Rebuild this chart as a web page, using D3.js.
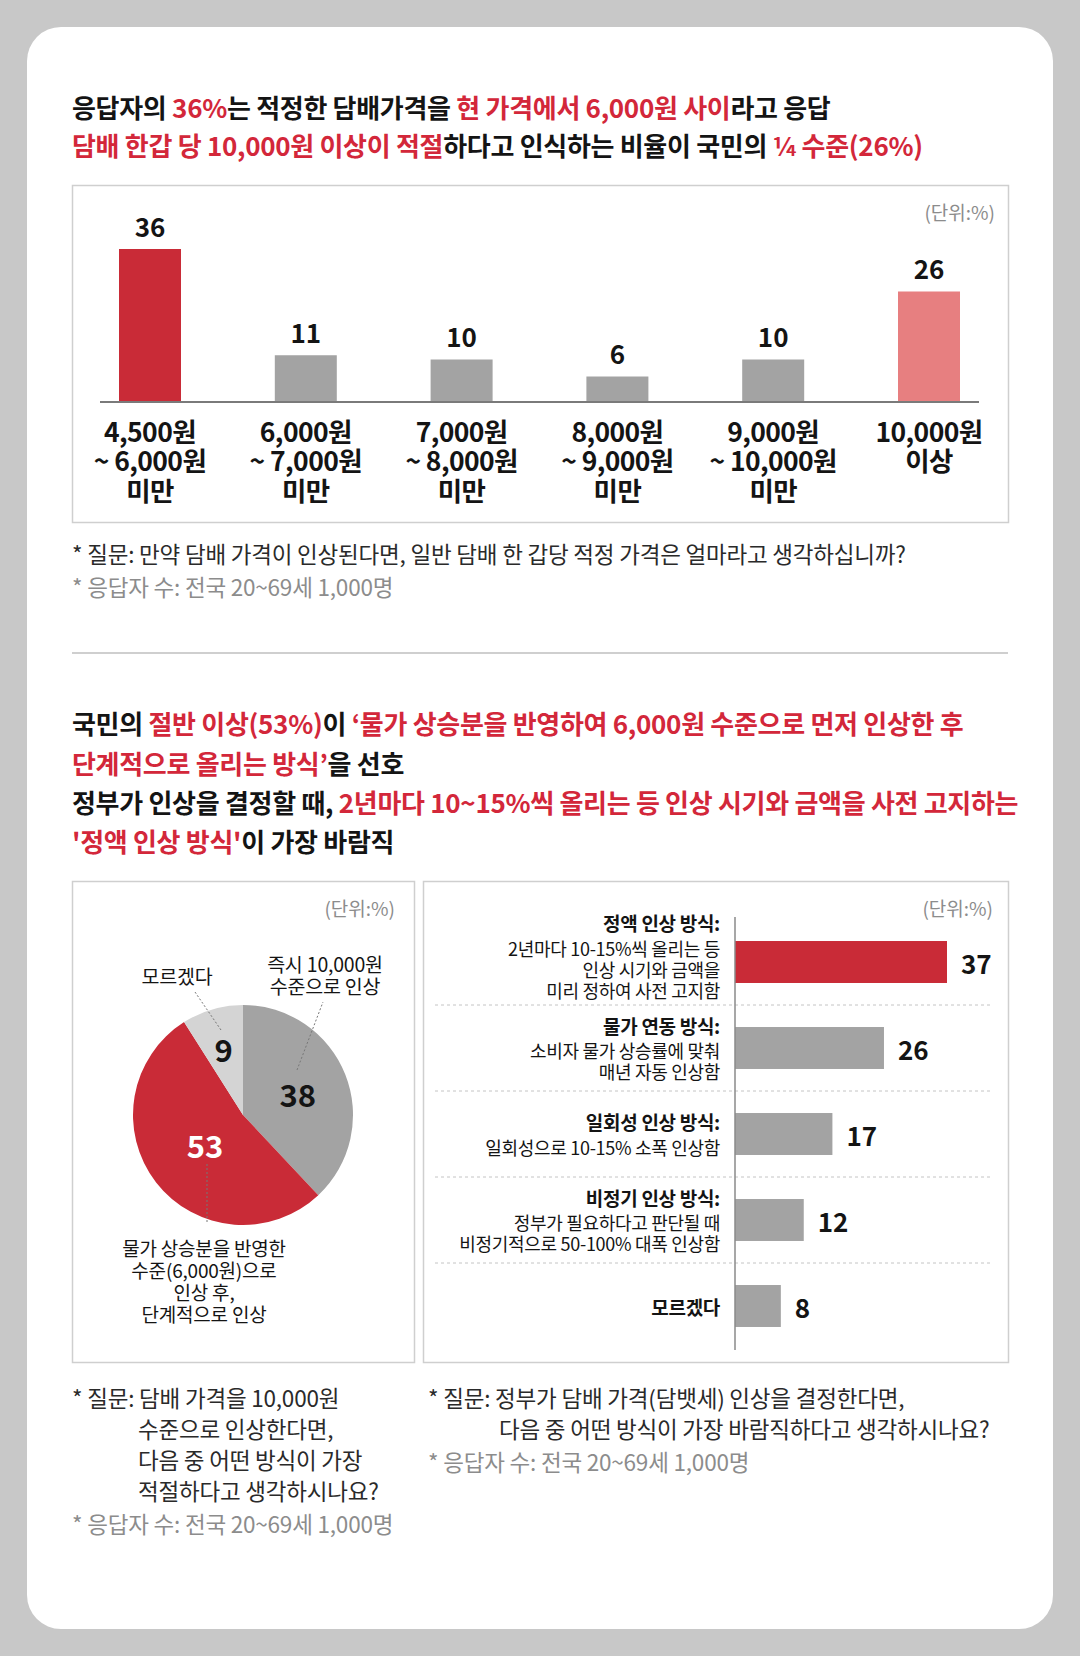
<!DOCTYPE html>
<html><head><meta charset="utf-8">
<script src="https://cdn.jsdelivr.net/npm/d3@7"></script>
<style>
html,body{margin:0;padding:0;background:#c8c8c8;}
svg{display:block;font-family:"Noto Sans CJK KR","Noto Sans",sans-serif;}
</style></head>
<body>
<svg id="c" width="1080" height="1656"></svg>
<script>
// ---------- DATA ----------
const priceCategories = [
  ["4,500원","~ 6,000원","미만"],
  ["6,000원","~ 7,000원","미만"],
  ["7,000원","~ 8,000원","미만"],
  ["8,000원","~ 9,000원","미만"],
  ["9,000원","~ 10,000원","미만"],
  ["10,000원","이상"]
];
const priceValues = [36, 11, 10, 6, 10, 26];

const pieCategories = ["즉시 10,000원 수준으로 인상", "물가 상승분을 반영한 수준(6,000원)으로 인상 후, 단계적으로 인상", "모르겠다"];
const pieValues = [38, 53, 9];

const methodTitles = ["정액 인상 방식:", "물가 연동 방식:", "일회성 인상 방식:", "비정기 인상 방식:", "모르겠다"];
const methodDescs = [
  ["2년마다 10-15%씩 올리는 등","인상 시기와 금액을","미리 정하여 사전 고지함"],
  ["소비자 물가 상승률에 맞춰","매년 자동 인상함"],
  ["일회성으로 10-15% 소폭 인상함"],
  ["정부가 필요하다고 판단될 때","비정기적으로 50-100% 대폭 인상함"],
  []
];
const methodValues = [37, 26, 17, 12, 8];

// ---------- STYLE / LAYOUT ----------
const RED = "#c92b37", RED_T = "#d3273a", PINK = "#e77f80", GREY = "#a3a3a3", LGREY = "#d4d4d4";
const BLACK = "#141414", NOTE = "#8c8c8c", NOTE_D = "#2a2a2a";
const pieLabelRadius = [59, 48, 69];

const svg = d3.select("#c");
svg.append("rect").attr("width",1080).attr("height",1656).attr("fill","#c8c8c8");
svg.append("rect").attr("x",27).attr("y",27).attr("width",1026).attr("height",1602).attr("rx",34).attr("fill","#fff");

function rich(g, x, y, parts, size, weight){
  const t = g.append("text").attr("x",x).attr("y",y).attr("font-size",size).attr("font-weight",weight||700)
    .attr("dominant-baseline","central").attr("letter-spacing","-0.3");
  parts.forEach(p=>t.append("tspan").attr("fill",p[1]?RED_T:BLACK).text(p[0]));
  return t;
}

// ---------- TITLE 1 ----------
rich(svg,72,106,[["응답자의 ",0],["36%",1],["는 적정한 담배가격을 ",0],["현 가격에서 6,000원 사이",1],["라고 응답",0]],26);
rich(svg,72,144,[["담배 한갑 당 10,000원 이상이 적절",1],["하다고 인식하는 비율이 국민의 ",0],["¼ 수준(26%)",1]],26);

// ---------- CHART 1 ----------
svg.append("rect").attr("x",72.5).attr("y",185.5).attr("width",936).attr("height",337).attr("fill","none").attr("stroke","#cfcfcf").attr("stroke-width",1.5);
svg.append("text").attr("x",995).attr("y",211).attr("text-anchor","end").attr("dominant-baseline","central")
  .attr("font-size",19).attr("fill",NOTE).text("(단위:%)");

const x1 = d3.scalePoint().domain(d3.range(priceValues.length)).range([150,929]);
const y1 = d3.scaleLinear().domain([0,40]).range([402,402-170]);
const barW = 62;
const g1 = svg.append("g");
g1.selectAll("rect.b").data(priceValues).join("rect")
  .attr("x",(d,i)=>x1(i)-barW/2).attr("width",barW)
  .attr("y",d=>y1(d)).attr("height",d=>y1(0)-y1(d))
  .attr("fill",(d,i)=>i===0?RED:(i===priceValues.length-1?PINK:GREY));
const ax1 = g1.append("g").attr("transform",`translate(0,${y1(0)})`)
  .call(d3.axisBottom(x1).tickSize(0).tickFormat(""));
ax1.select(".domain").attr("d","M100,0H979").attr("stroke","#7a7a7a").attr("stroke-width",2);
g1.selectAll("text.v").data(priceValues).join("text")
  .attr("x",(d,i)=>x1(i)).attr("y",d=>y1(d)-24).attr("text-anchor","middle").attr("dominant-baseline","central")
  .attr("font-size",26).attr("font-weight",700).attr("fill",BLACK).text(d=>d);
priceCategories.forEach((lines,i)=>{
  const t = g1.append("text").attr("text-anchor","middle").attr("font-size",26.5).attr("font-weight",700)
    .attr("fill",BLACK).attr("letter-spacing","-0.6");
  lines.forEach((l,j)=>t.append("tspan").attr("x",x1(i)).attr("y",430+29.5*j).attr("dominant-baseline","central").text(l));
});

// notes
function note(x,y,txt,fill){
  svg.append("text").attr("x",x).attr("y",y).attr("dominant-baseline","central").attr("font-size",22.5)
    .attr("fill",fill).attr("letter-spacing","-0.2").text(txt);
}
note(72,553,"* 질문: 만약 담배 가격이 인상된다면, 일반 담배 한 갑당 적정 가격은 얼마라고 생각하십니까?",NOTE_D);
note(72,586,"* 응답자 수: 전국 20~69세 1,000명",NOTE);

svg.append("line").attr("x1",72).attr("x2",1008).attr("y1",653).attr("y2",653).attr("stroke","#cfcfcf").attr("stroke-width",2);

// ---------- TITLE 2 ----------
rich(svg,72,722,[["국민의 ",0],["절반 이상(53%)",1],["이 ",0],["‘물가 상승분을 반영하여 6,000원 수준으로 먼저 인상한 후",1]],26);
rich(svg,72,762,[["단계적으로 올리는 방식’",1],["을 선호",0]],26);
rich(svg,72,801,[["정부가 인상을 결정할 때, ",0],["2년마다 10~15%씩 올리는 등 인상 시기와 금액을 사전 고지하는",1]],26);
rich(svg,72,840,[["'정액 인상 방식'",1],["이 가장 바람직",0]],26);

// ---------- PIE ----------
svg.append("rect").attr("x",72.5).attr("y",881.5).attr("width",342).attr("height",481).attr("fill","none").attr("stroke","#cfcfcf").attr("stroke-width",1.5);
svg.append("text").attr("x",395).attr("y",907).attr("text-anchor","end").attr("dominant-baseline","central")
  .attr("font-size",19).attr("fill",NOTE).text("(단위:%)");
const cx = 243, cy = 1115, R = 110;
const pie = d3.pie().sort(null).value(d=>d);
const arcs = pie(pieValues);
const arc = d3.arc().innerRadius(0).outerRadius(R);
const gp = svg.append("g").attr("transform",`translate(${cx},${cy})`);
const pieColors = [GREY, RED, LGREY];
gp.selectAll("path").data(arcs).join("path").attr("d",arc).attr("fill",(d,i)=>pieColors[i]);
gp.selectAll("text").data(arcs).join("text")
  .attr("transform",(d,i)=>`translate(${d3.arc().innerRadius(pieLabelRadius[i]).outerRadius(pieLabelRadius[i]).centroid(d)})`)
  .attr("text-anchor","middle").attr("dominant-baseline","central")
  .attr("font-size",31).attr("font-weight",700).attr("fill",(d,i)=>i===1?"#fff":BLACK).text(d=>d.data);
// leader lines (dashed)
const leaders = [[297,1070,323,1002],[207,1164,207,1222],[221,1030,195,992]];
leaders.forEach(l=>svg.append("line").attr("x1",l[0]).attr("y1",l[1]).attr("x2",l[2]).attr("y2",l[3])
  .attr("stroke","#777").attr("stroke-width",1).attr("stroke-dasharray","2,2"));
function multi(x,y,lines,size,anchor,lh,weight,fill){
  const t = svg.append("text").attr("text-anchor",anchor).attr("font-size",size).attr("font-weight",weight||400)
    .attr("fill",fill||BLACK).attr("letter-spacing","-0.2");
  lines.forEach((l,j)=>t.append("tspan").attr("x",x).attr("y",y+lh*j).attr("dominant-baseline","central").text(l));
}
multi(325,963,["즉시 10,000원","수준으로 인상"],19.5,"middle",22);
multi(177,975,["모르겠다"],19.5,"middle",22);
multi(204,1247,["물가 상승분을 반영한","수준(6,000원)으로","인상 후,","단계적으로 인상"],19,"middle",22);

// ---------- HORIZONTAL BARS ----------
svg.append("rect").attr("x",423.5).attr("y",881.5).attr("width",585).attr("height",481).attr("fill","none").attr("stroke","#cfcfcf").attr("stroke-width",1.5);
svg.append("text").attr("x",993).attr("y",907).attr("text-anchor","end").attr("dominant-baseline","central")
  .attr("font-size",19).attr("fill",NOTE).text("(단위:%)");
const yb = d3.scaleBand().domain(d3.range(methodValues.length)).range([919,1349]).paddingInner(0.512).paddingOuter(0.256);
const xb = d3.scaleLinear().domain([0,37]).range([735,947]);
const gb = svg.append("g");
d3.range(1,methodValues.length).forEach(i=>{
  const yy = yb(i) - yb.step()*yb.paddingInner()/2;
  gb.append("line").attr("x1",435).attr("x2",992).attr("y1",yy).attr("y2",yy)
    .attr("stroke","#c4c4c4").attr("stroke-width",1).attr("stroke-dasharray","3,3");
});
gb.selectAll("rect").data(methodValues).join("rect")
  .attr("x",xb(0)).attr("y",(d,i)=>yb(i)).attr("height",yb.bandwidth())
  .attr("width",d=>xb(d)-xb(0)).attr("fill",(d,i)=>i===0?RED:GREY);
const axb = gb.append("g").attr("transform",`translate(${xb(0)},0)`).call(d3.axisLeft(yb).tickSize(0).tickFormat(""));
axb.select(".domain").attr("d","M0,917V1350").attr("stroke","#8a8a8a").attr("stroke-width",1.5);
gb.selectAll("text.v").data(methodValues).join("text")
  .attr("x",d=>xb(d)+14).attr("y",(d,i)=>yb(i)+yb.bandwidth()/2).attr("dominant-baseline","central")
  .attr("font-size",26).attr("font-weight",700).attr("fill",BLACK).text(d=>d);
methodTitles.forEach((tl,i)=>{
  const desc = methodDescs[i];
  const c = yb(i)+yb.bandwidth()/2;
  const total = desc.length? 25 + 21*(desc.length-1) : 0;
  let y0 = c - total/2 - (desc.length>2 ? 6 : 0);
  const t = gb.append("text").attr("text-anchor","end").attr("fill",BLACK).attr("letter-spacing","-0.3");
  t.append("tspan").attr("x",720).attr("y",y0).attr("dominant-baseline","central").attr("font-size",19).attr("font-weight",700).text(tl);
  desc.forEach((dl,j)=>t.append("tspan").attr("x",720).attr("y",y0+25+21*j).attr("dominant-baseline","central").attr("font-size",18).attr("font-weight",400).text(dl));
});

// ---------- BOTTOM NOTES ----------
note(72,1397,"* 질문: 담배 가격을 10,000원",NOTE_D);
note(138,1428,"수준으로 인상한다면,",NOTE_D);
note(138,1459,"다음 중 어떤 방식이 가장",NOTE_D);
note(138,1490,"적절하다고 생각하시나요?",NOTE_D);
note(72,1523,"* 응답자 수: 전국 20~69세 1,000명",NOTE);
note(428,1397,"* 질문: 정부가 담배 가격(담뱃세) 인상을 결정한다면,",NOTE_D);
note(499,1428,"다음 중 어떤 방식이 가장 바람직하다고 생각하시나요?",NOTE_D);
note(428,1461,"* 응답자 수: 전국 20~69세 1,000명",NOTE);
</script>
</body></html>
